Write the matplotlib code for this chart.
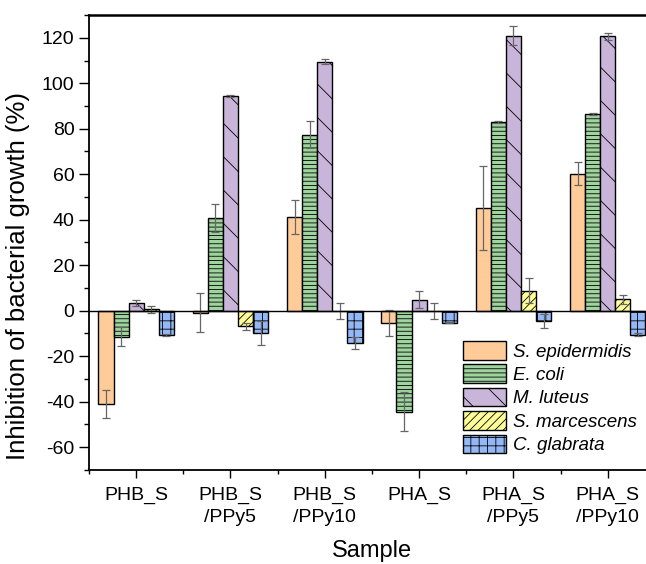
import numpy as np
import matplotlib
matplotlib.use("Agg")
import matplotlib.pyplot as plt

plt.rcParams['font.family'] = ['Liberation Sans', 'DejaVu Sans']
plt.rcParams['hatch.linewidth'] = 0.6
plt.rcParams['axes.unicode_minus'] = False

samples = ['PHB_S', 'PHB_S\n/PPy5', 'PHB_S\n/PPy10', 'PHA_S', 'PHA_S\n/PPy5', 'PHA_S\n/PPy10']
strains = ['S. epidermidis', 'E. coli', 'M. luteus', 'S. marcescens', 'C. glabrata']

# mean inhibition (%) per strain, one value per sample
s_epidermidis = [-41.0, -0.9, 41.2, -5.4, 45.3, 60.3]
e_coli = [-11.4, 40.8, 77.4, -44.4, 83.0, 86.6]
m_luteus = [3.5, 94.3, 109.5, 4.9, 120.9, 120.6]
s_marcescens = [0.6, -6.8, -0.1, -0.1, 8.8, 5.1]
c_glabrata = [-10.8, -9.8, -14.2, -5.3, -4.6, -10.5]

# standard deviations
s_epidermidis_sd = [6.0, 8.6, 7.5, 5.6, 18.5, 5.2]
e_coli_sd = [4.2, 6.0, 5.8, 8.5, 0.3, 0.4]
m_luteus_sd = [1.2, 0.5, 1.1, 3.9, 4.2, 1.6]
s_marcescens_sd = [1.4, 1.5, 3.5, 3.5, 5.4, 2.0]
c_glabrata_sd = [0.5, 5.4, 2.5, 0.3, 3.1, 0.5]

means = [s_epidermidis, e_coli, m_luteus, s_marcescens, c_glabrata]
sds = [s_epidermidis_sd, e_coli_sd, m_luteus_sd, s_marcescens_sd, c_glabrata_sd]
colors = ['#FFCC99', '#9FD49F', '#C9B5D9', '#FFFF99', '#94B8F5']
hatches = ['', '----', '\\', '////', '++']

fig = plt.figure(figsize=(6.46, 5.64), dpi=100)
ax = fig.add_axes([0.1378, 0.1667, 0.876, 0.8067])

x = np.arange(1, len(samples) + 1)
w = 0.16
for i in range(len(strains)):
    pos = x + (i - 2) * w
    ax.bar(pos, means[i], width=w, color=colors[i], edgecolor='black',
           linewidth=1, hatch=hatches[i], label=strains[i], zorder=2)
    ax.errorbar(pos, means[i], yerr=sds[i], fmt='none', ecolor='#666666',
                elinewidth=0.9, capsize=3, capthick=0.9, zorder=3)

ax.axhline(0, color='black', linewidth=1, zorder=4)

ax.set_xlim(0.5, 6.5)
ax.set_ylim(-70, 130)
ax.set_xticks(x)
ax.set_xticklabels(samples, fontsize=14, linespacing=1.4)
ax.set_xticks(np.arange(0.5, 7, 1), minor=True)
ax.set_yticks(np.arange(-60, 121, 20))
ax.set_yticks(np.arange(-70, 131, 10), minor=True)
ax.tick_params(axis='y', labelsize=14)
ax.tick_params(axis='y', which='major', direction='out', length=7, width=1, pad=3.5)
ax.tick_params(axis='y', which='minor', direction='out', length=3.5, width=1)
ax.tick_params(axis='x', which='major', direction='out', length=6, width=1, pad=6)
ax.tick_params(axis='x', which='minor', direction='out', length=3, width=1)

for side in ['left', 'bottom']:
    ax.spines[side].set_linewidth(1.3)
ax.spines['top'].set_linewidth(1.8)
ax.spines['right'].set_visible(False)

ax.set_xlabel('Sample', fontsize=17, labelpad=10)
ax.set_ylabel('Inhibition of bacterial growth (%)', fontsize=18.5)
ax.yaxis.set_label_coords(-0.104, 0.426)

leg = ax.legend(loc='upper left', bbox_to_anchor=(0.661, 0.2835), frameon=False,
                borderpad=0, borderaxespad=0, handlelength=2.3, handleheight=1.15,
                labelspacing=0.2, handletextpad=0.35,
                prop={'style': 'italic', 'size': 13.5})

fig.savefig('out.png', dpi=100)
